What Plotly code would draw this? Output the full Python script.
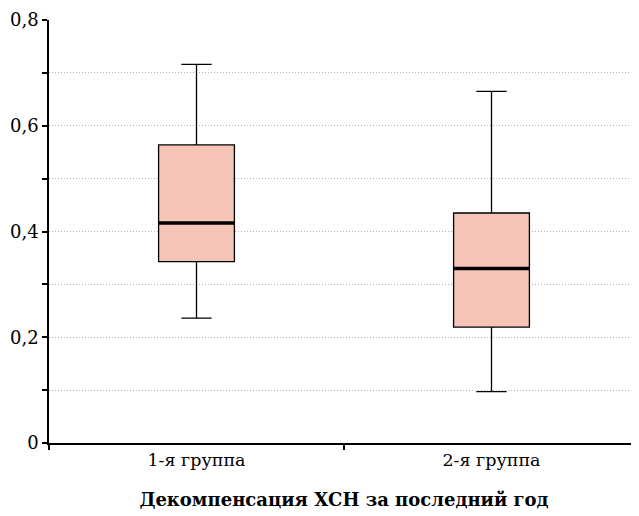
import plotly.graph_objects as go

categories = ["1-я группа", "2-я группа"]
lower_whisker = [0.236, 0.097]
q1_vals = [0.343, 0.219]
median_vals = [0.416, 0.330]
q3_vals = [0.564, 0.435]
upper_whisker = [0.716, 0.665]
x_title = "Декомпенсация ХСН за последний год"
y_tick_vals = [0, 0.2, 0.4, 0.6, 0.8]
y_tick_text = ["0", "0,2", "0,4", "0,6", "0,8"]

xpos = list(range(len(categories)))
box_w = 0.257
grid_col = "#B0B0B0"
serif = "DejaVu Serif"

fig = go.Figure()
fig.add_trace(go.Box(
    x=xpos,
    q1=q1_vals, median=median_vals, q3=q3_vals,
    lowerfence=lower_whisker, upperfence=upper_whisker,
    width=box_w, whiskerwidth=0.4,
    fillcolor="#F4C4B7",
    line=dict(color="black", width=1.3),
    boxpoints=False, showlegend=False, hoverinfo="skip",
))

for i, m in zip(xpos, median_vals):
    fig.add_shape(type="line", xref="x", yref="y",
                  x0=i - box_w / 2, x1=i + box_w / 2, y0=m, y1=m,
                  line=dict(color="black", width=3.5), layer="above")

fig.update_layout(
    width=631, height=508,
    margin=dict(l=41, r=0, t=12, b=73, autoexpand=False),
    plot_bgcolor="white", paper_bgcolor="white",
    separators=", ",
    font=dict(family=serif, size=17, color="black"),
    xaxis=dict(
        range=[-0.5, 1.5],
        tickvals=xpos, ticktext=categories,
        ticks="", showgrid=False, zeroline=False,
        showline=True, linecolor="black", linewidth=1.5,
        tickfont=dict(size=17.5, family=serif),
        minor=dict(tickvals=[-0.5, 0.5, 1.5], ticks="outside", ticklen=5,
                   tickcolor="black", tickwidth=1.5, showgrid=False),
        title=dict(text="<b>" + x_title + "</b>",
                   font=dict(size=18, family=serif), standoff=25),
    ),
    yaxis=dict(
        range=[0, 0.8],
        tickvals=y_tick_vals, ticktext=y_tick_text,
        ticks="outside", ticklen=5, tickcolor="black", tickwidth=1.5,
        showline=True, linecolor="black", linewidth=1.5,
        zeroline=False,
        showgrid=True, gridcolor=grid_col, griddash="1px,2px", gridwidth=1,
        minor=dict(dtick=0.1, ticks="outside", ticklen=5, tickcolor="black",
                   tickwidth=1.5, showgrid=True, gridcolor=grid_col,
                   griddash="1px,2px", gridwidth=1),
        tickfont=dict(size=18, family=serif),
    ),
)

fig.write_html("out.html")
